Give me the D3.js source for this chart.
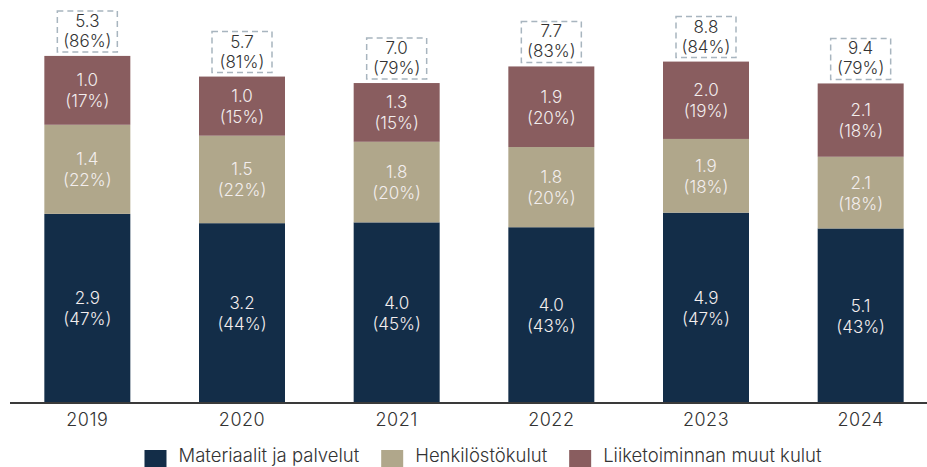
<!DOCTYPE html>
<html>
<head>
<meta charset="utf-8">
<script src="https://d3js.org/d3.v7.min.js"></script>
<style>
    body { margin: 0; background: #fff; }
    svg { display: block; font-family: "Inter", "Liberation Sans", sans-serif; font-weight: 300; }
</style>
</head>
<body>
<div id="chart"></div>
<script>
// Data
const years = ['2019', '2020', '2021', '2022', '2023', '2024'];
const seriesNames = ['Materiaalit ja palvelut', 'Henkilöstökulut', 'Liiketoiminnan muut kulut'];

// values (as labelled)
const materiaalit = [2.9, 3.2, 4.0, 4.0, 4.9, 5.1];
const henkilosto = [1.4, 1.5, 1.8, 1.8, 1.9, 2.1];
const muutKulut = [1.0, 1.0, 1.3, 1.9, 2.0, 2.1];
const totals = [5.3, 5.7, 7.0, 7.7, 8.8, 9.4];

// shares in % (bar heights)
const materiaalitShare = [46.7, 44.4, 44.6, 43.4, 47.0, 43.1];
const henkilostoShare = [22.0, 21.6, 19.9, 19.8, 18.2, 17.7];
const muutKulutShare = [17.0, 14.6, 14.5, 19.9, 19.1, 18.1];
const totalShare = [86, 81, 79, 83, 84, 79];

const colors = ['#132d48', '#b0a78b', '#895d5f'];

const W = 927, H = 467;
const baseY = 403;

const rows = years.map((yr, i) => ({
    year: yr,
    s0: materiaalitShare[i], s1: henkilostoShare[i], s2: muutKulutShare[i],
    v0: materiaalit[i], v1: henkilosto[i], v2: muutKulut[i],
    total: totals[i], totalShare: totalShare[i],
}));

const svg = d3.select('#chart')
    .append('svg')
    .attr('width', W)
    .attr('height', H);

const x = d3.scaleBand()
    .domain(years)
    .range([10, 938])
    .paddingInner(0.444)
    .paddingOuter(0.222);

const y = d3.scaleLinear()
    .domain([0, 100])
    .range([baseY, baseY - 405]);

const stack = d3.stack().keys(['s0', 's1', 's2']);
const layers = stack(rows);

// Bars
const layerG = svg.selectAll('.layer')
    .data(layers)
    .enter()
    .append('g')
    .attr('class', 'layer')
    .attr('fill', (d, i) => colors[i]);

layerG.selectAll('rect')
    .data(d => d)
    .enter()
    .append('rect')
    .attr('x', d => x(d.data.year))
    .attr('y', d => y(d[1]))
    .attr('width', x.bandwidth())
    .attr('height', d => y(d[0]) - y(d[1]));

// Segment labels
layers.forEach((layer, k) => {
    layer.forEach(d => {
        const cx = x(d.data.year) + x.bandwidth() / 2;
        const cy = (y(d[0]) + y(d[1])) / 2;
        const t = svg.append('text')
            .attr('text-anchor', 'middle')
            .attr('fill', '#f3eeee')
            .style('font-size', '17px');
        t.append('tspan')
            .attr('x', cx).attr('y', cy - 4)
            .text(d.data['v' + k].toFixed(1));
        t.append('tspan')
            .attr('x', cx).attr('y', cy + 17)
            .text('(' + Math.round(d.data['s' + k]) + '%)');
    });
});

// Totals in dashed boxes
const topLayer = layers[2];
topLayer.forEach(d => {
    const cx = x(d.data.year) + x.bandwidth() / 2;
    const ty = y(d[1]);
    svg.append('rect')
        .attr('x', cx - 30)
        .attr('y', ty - 45)
        .attr('width', 60)
        .attr('height', 41)
        .attr('fill', 'none')
        .attr('stroke', '#a8b5bf')
        .attr('stroke-width', 1.5)
        .attr('stroke-dasharray', '6,4');
    const t = svg.append('text')
        .attr('text-anchor', 'middle')
        .attr('fill', '#333')
        .style('font-size', '17px');
    t.append('tspan').attr('x', cx).attr('y', ty - 29).text(d.data.total.toFixed(1));
    t.append('tspan').attr('x', cx).attr('y', ty - 9).text('(' + d.data.totalShare + '%)');
});

// Axis
svg.append('g')
    .attr('transform', `translate(0,${baseY})`)
    .call(d3.axisBottom(x).tickSize(0).tickPadding(10))
    .call(g => g.select('.domain').attr('d', 'M10,0H927').attr('stroke', '#3a3a3a').attr('stroke-width', 2))
    .call(g => g.selectAll('text')
        .attr('fill', '#333')
        .style('font-size', '18px')
        .style('letter-spacing', '0.5px')
        .style('font-weight', 300)
        .style('font-family', '"Inter", "Liberation Sans", sans-serif'));

// Legend
const legend = svg.append('g');
let lx = 0;
seriesNames.forEach((name, i) => {
    const item = legend.append('g').attr('transform', `translate(${lx},0)`);
    item.append('rect')
        .attr('x', 0).attr('y', -12)
        .attr('width', 22).attr('height', 17)
        .attr('fill', colors[i]);
    const t = item.append('text')
        .attr('x', 34).attr('y', 0)
        .attr('fill', '#333')
        .style('font-size', '18.5px')
        .text(name);
    lx += 34 + t.node().getComputedTextLength() + 22;
});
lx -= 22;
legend.attr('transform', `translate(${483 - lx / 2},462)`);
</script>
</body>
</html>
